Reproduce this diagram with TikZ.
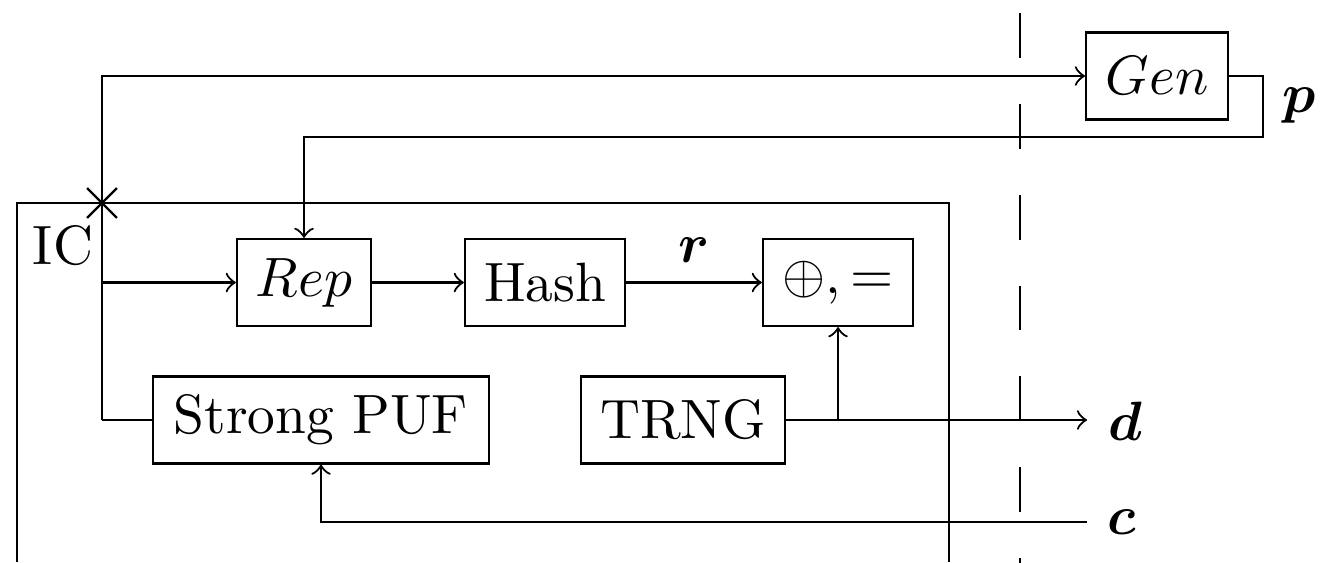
\documentclass[tikz,border=0pt]{standalone}
\usepackage{amsmath,bm}
\usetikzlibrary{shapes.misc}
\begin{document}
\begin{tikzpicture}[x=0.1805pt, y=-0.1805pt,
  blk/.style={draw, line width=0.4pt, inner sep=0pt, minimum height=15.7pt},
  lbl/.style={inner sep=0pt},
  >=to]
\useasboundingbox (0,0) rectangle (1322,562);
% boxes
\node[blk, minimum width=25.6pt] (gen)  at (1157,76)    {$Gen$};
\node[blk, minimum width=24.2pt] (rep)  at (304,282.5)  {$Rep$};
\node[blk, minimum width=28.9pt] (hash) at (545,282.5)  {Hash};
\node[blk, minimum width=27.1pt] (xor)  at (838,282.5)  {$\oplus,=$};
\node[blk, minimum width=60.6pt] (spuf) at (321,420)    {Strong PUF};
\node[blk, minimum width=36.8pt] (trng) at (683,420)    {TRNG};
% IC enclosure
\draw (17,562) -- (17,203) -- (949,203) -- (949,562);
\node[lbl] (ic) at (63,246) {IC};
\node[draw, cross out, inner sep=0pt, minimum size=5pt] (cr) at (102,203) {};
% dashed boundary
\draw[dash pattern=on 8.1pt off 8.3pt] (1020,13) -- (1020,570);
% junctions
\coordinate (jA) at (102,420);
\coordinate (jB) at (102,282.5);
\coordinate (pR) at (1263,137);
\coordinate (jX) at (838,420);
\coordinate (dEnd) at (1087,420);
\coordinate (cEnd) at (1087,522);
% connectors
\draw (spuf.west) -- (jA);
\draw[->] (jA) |- (gen.west);
\draw[->] (jB) -- (rep.west);
\draw[->] (rep) -- (hash);
\draw[->] (hash) -- node[above, inner sep=3.5pt] (rl) {$\bm{r}$} (xor);
\draw[->] (gen.east) -| (pR) -| (rep.north);
\draw[->] (trng.east) -- (dEnd);
\draw[->] (jX) -- (xor.south);
\draw[->] (cEnd) -| (spuf.south);
% labels
\node[lbl] (pl) at (1299,106) {$\bm{p}$};
\node[lbl] (dl) at (1125,421) {$\bm{d}$};
\node[lbl] (cl) at (1122,522) {$\bm{c}$};
\end{tikzpicture}
\end{document}
